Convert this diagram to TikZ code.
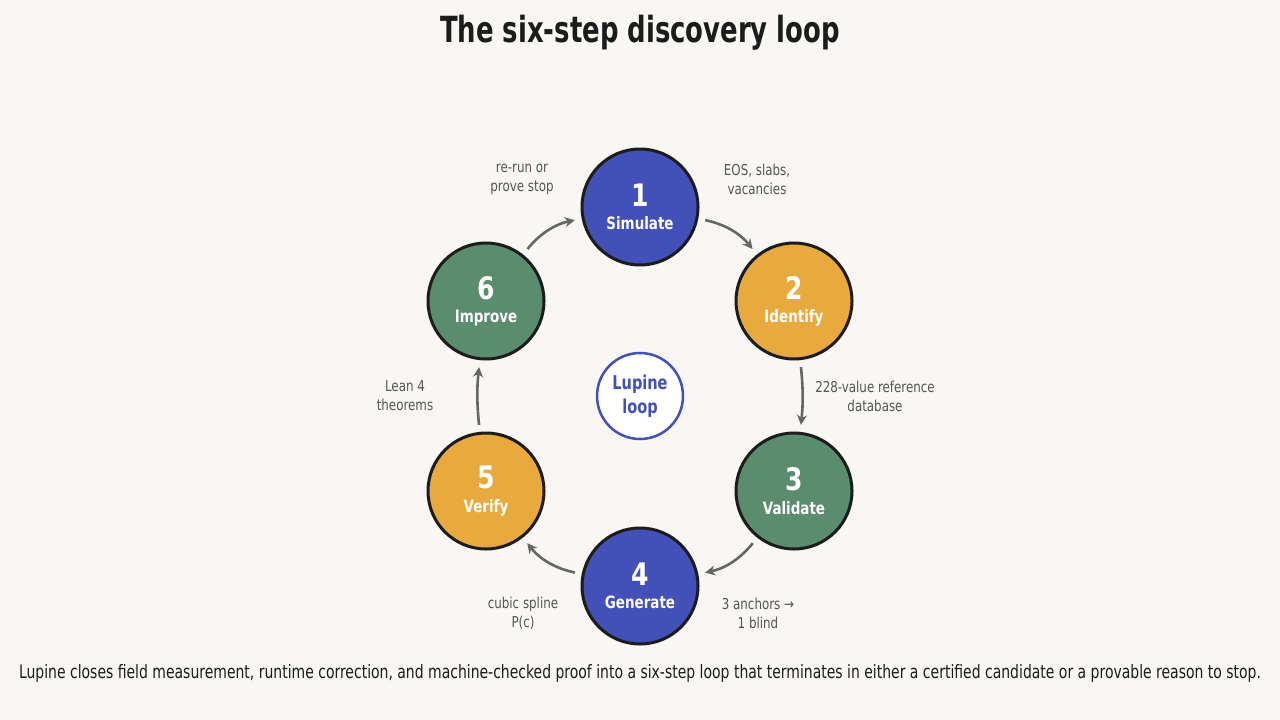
\documentclass[tikz,border=0pt]{standalone}
\usepackage{fontspec}
\setmainfont{DejaVu Sans Condensed}
\usetikzlibrary{arrows.meta}
\definecolor{bg}{HTML}{F9F7F3}
\definecolor{cblue}{HTML}{4350B8}
\definecolor{corange}{HTML}{E8AA3E}
\definecolor{cgreen}{HTML}{5B8C6E}
\definecolor{ink}{HTML}{1C1C1C}
\definecolor{lab}{HTML}{555555}
\begin{document}
\begin{tikzpicture}[x=1pt,y=-1pt,
 stepnode/.style={circle,draw=ink,line width=3pt,minimum size=116pt,inner sep=0pt,text=white,align=center},
 arr/.style={-{Stealth[length=10pt,width=10pt]},line width=2.6pt,draw=lab!90,shorten <=7pt,shorten >=7pt},
 lbl/.style={text=lab,font=\fontsize{15}{19}\selectfont,align=center}]
\fill[bg] (0,0) rectangle (1280,720);
\useasboundingbox (0,0) rectangle (1280,720);
\node[font=\bfseries\fontsize{36}{40}\selectfont,text=ink] (title) at (640,33) {\scalebox{0.8}[1]{The six-step discovery loop}};
\newcommand{\stp}[5]{\node[stepnode,fill=#4] (#1) at (#2) {\raisebox{0pt}{\fontsize{31}{34}\selectfont\bfseries\scalebox{0.9}[1]{#3}}\\[9pt]\fontsize{17}{20}\selectfont\bfseries\scalebox{0.88}[1]{#5}};}
\stp{c1}{640,207}{1}{cblue}{Simulate}
\stp{c2}{794,301}{2}{corange}{Identify}
\stp{c3}{794,491}{3}{cgreen}{Validate}
\stp{c4}{640,586}{4}{cblue}{Generate}
\stp{c5}{486,491}{5}{corange}{Verify}
\stp{c6}{486,301}{6}{cgreen}{Improve}
\node[circle,draw=cblue,line width=2.5pt,fill=white,minimum size=86pt,inner sep=0pt,align=center,text=cblue,font=\bfseries\fontsize{19}{24}\selectfont] (hub) at (640,396) {\scalebox{0.85}[1]{Lupine}\\\scalebox{0.85}[1]{loop}};
\draw[arr] (c1) to[bend left=20] (c2);
\draw[arr] (c2) to[bend left=6] (c3);
\draw[arr] (c3) to[bend left=20] (c4);
\draw[arr] (c4) to[bend left=20] (c5);
\draw[arr] (c5) to[bend left=6] (c6);
\draw[arr] (c6) to[bend left=20] (c1);
\node[lbl] (l1) at (757,179) {\scalebox{0.88}[1]{EOS, slabs,}\\\scalebox{0.88}[1]{vacancies}};
\node[lbl] (l2) at (875,396) {\scalebox{0.88}[1]{228-value reference}\\\scalebox{0.88}[1]{database}};
\node[lbl] (l3) at (758,613) {\scalebox{0.88}[1]{3 anchors \symbol{"2192}}\\\scalebox{0.88}[1]{1 blind}};
\node[lbl] (l4) at (523,613) {\scalebox{0.88}[1]{cubic spline}\\\scalebox{0.88}[1]{P(c)}};
\node[lbl] (l5) at (405,396) {\scalebox{0.88}[1]{Lean 4}\\\scalebox{0.88}[1]{theorems}};
\node[lbl] (l6) at (522,179) {\scalebox{0.88}[1]{re-run or}\\\scalebox{0.88}[1]{prove stop}};
\node[text=ink,font=\fontsize{18.5}{22}\selectfont] (cap) at (640,673) {\scalebox{0.84}[1]{Lupine closes field measurement, runtime correction, and machine-checked proof into a six-step loop that terminates in either a certified candidate or a provable reason to stop.}};
\end{tikzpicture}
\end{document}
